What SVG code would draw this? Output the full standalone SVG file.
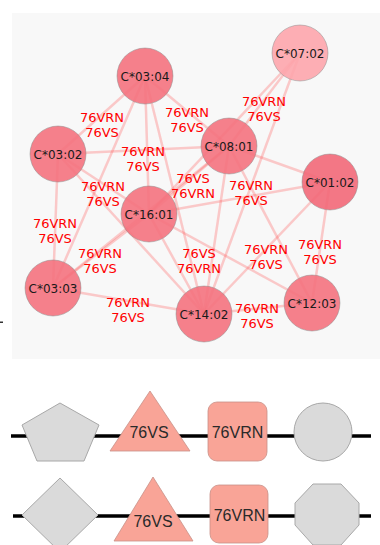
<svg xmlns="http://www.w3.org/2000/svg" width="380" height="545" viewBox="0 0 380 545">
<style>
.e{stroke:#ff5a5a;stroke-opacity:0.3;stroke-width:2.5;fill:none}
.n{stroke:#8a8a8a;stroke-opacity:0.6;stroke-width:0.8}
.nl{font-family:"DejaVu Sans",sans-serif;font-size:12px;fill:#1a1a1a;text-anchor:middle}
.el{font-family:"DejaVu Sans",sans-serif;font-size:13px;fill:#ff0000;text-anchor:middle}
.g{fill:#dadada;stroke:#a8a8a8;stroke-width:1}
.s{fill:#f9a497;stroke:#c89088;stroke-width:0.8}
.bl{stroke:#000;stroke-width:3.5}
.bt{font-family:"Liberation Sans",Arial,sans-serif;font-size:16px;fill:#2a2a2a;text-anchor:middle}
</style>
<rect x="12" y="13" width="368" height="346" fill="#f8f8f8"/>
<rect x="0" y="321.5" width="3" height="1.5" fill="#333"/>
<g id="edges">
<line class="e" x1="145" y1="76" x2="58" y2="154"/>
<line class="e" x1="145" y1="76" x2="229" y2="146"/>
<line class="e" x1="145" y1="76" x2="149" y2="214"/>
<line class="e" x1="145" y1="76" x2="204" y2="314"/>
<line class="e" x1="145" y1="76" x2="53" y2="288"/>
<line class="e" x1="300" y1="53" x2="229" y2="146"/>
<line class="e" x1="300" y1="53" x2="149" y2="214"/>
<line class="e" x1="300" y1="53" x2="204" y2="314"/>
<line class="e" x1="58" y1="154" x2="229" y2="146"/>
<line class="e" x1="58" y1="154" x2="149" y2="214"/>
<line class="e" x1="58" y1="154" x2="53" y2="288"/>
<line class="e" x1="58" y1="154" x2="204" y2="314"/>
<line class="e" x1="229" y1="146" x2="149" y2="214"/>
<line class="e" x1="229" y1="146" x2="330" y2="182"/>
<line class="e" x1="229" y1="146" x2="204" y2="314"/>
<line class="e" x1="229" y1="146" x2="312" y2="303"/>
<line class="e" x1="229" y1="146" x2="53" y2="288"/>
<line class="e" x1="149" y1="214" x2="330" y2="182"/>
<line class="e" x1="149" y1="214" x2="53" y2="288"/>
<line class="e" x1="149" y1="214" x2="204" y2="314"/>
<line class="e" x1="149" y1="214" x2="312" y2="303"/>
<line class="e" x1="53" y1="288" x2="204" y2="314"/>
<line class="e" x1="330" y1="182" x2="204" y2="314"/>
<line class="e" x1="330" y1="182" x2="312" y2="303"/>
<line class="e" x1="204" y1="314" x2="312" y2="303"/>
</g>
<g id="n0304"><circle class="n" cx="145" cy="76" r="28" fill="#f4727e" fill-opacity="0.9"/><text class="nl" x="145" y="80.5">C*03:04</text></g>
<g id="n0702"><circle class="n" cx="300" cy="53" r="28" fill="#fda5ac" fill-opacity="0.9"/><text class="nl" x="300" y="57.5">C*07:02</text></g>
<g id="n0302"><circle class="n" cx="58" cy="154" r="28" fill="#f4727e" fill-opacity="0.9"/><text class="nl" x="58" y="158.5">C*03:02</text></g>
<g id="n0801"><circle class="n" cx="229" cy="146" r="28" fill="#f4727e" fill-opacity="0.9"/><text class="nl" x="229" y="150.5">C*08:01</text></g>
<g id="n0102"><circle class="n" cx="330" cy="182" r="28" fill="#f26878" fill-opacity="0.9"/><text class="nl" x="330" y="186.5">C*01:02</text></g>
<g id="n1601"><circle class="n" cx="149" cy="214" r="28" fill="#f4727e" fill-opacity="0.9"/><text class="nl" x="149" y="218.5">C*16:01</text></g>
<g id="n0303"><circle class="n" cx="53" cy="288" r="28" fill="#f4727e" fill-opacity="0.9"/><text class="nl" x="53" y="292.5">C*03:03</text></g>
<g id="n1402"><circle class="n" cx="204" cy="314" r="28" fill="#f4727e" fill-opacity="0.9"/><text class="nl" x="204" y="318.5">C*14:02</text></g>
<g id="n1203"><circle class="n" cx="312" cy="303" r="28" fill="#f4727e" fill-opacity="0.9"/><text class="nl" x="312" y="307.5">C*12:03</text></g>
<g id="edge-labels">
<text class="el" x="102" y="122">76VRN<tspan x="102" dy="14.5">76VS</tspan></text>
<text class="el" x="187" y="117">76VRN<tspan x="187" dy="14.5">76VS</tspan></text>
<text class="el" x="264" y="106">76VRN<tspan x="264" dy="14.5">76VS</tspan></text>
<text class="el" x="143" y="156">76VRN<tspan x="143" dy="14.5">76VS</tspan></text>
<text class="el" x="193" y="183">76VS<tspan x="193" dy="14.5">76VRN</tspan></text>
<text class="el" x="251" y="190">76VRN<tspan x="251" dy="14.5">76VS</tspan></text>
<text class="el" x="103" y="191">76VRN<tspan x="103" dy="14.5">76VS</tspan></text>
<text class="el" x="55" y="228">76VRN<tspan x="55" dy="14.5">76VS</tspan></text>
<text class="el" x="100" y="258">76VRN<tspan x="100" dy="14.5">76VS</tspan></text>
<text class="el" x="199" y="258">76VS<tspan x="199" dy="14.5">76VRN</tspan></text>
<text class="el" x="266" y="254">76VRN<tspan x="266" dy="14.5">76VS</tspan></text>
<text class="el" x="320" y="249">76VRN<tspan x="320" dy="14.5">76VS</tspan></text>
<text class="el" x="128" y="307">76VRN<tspan x="128" dy="14.5">76VS</tspan></text>
<text class="el" x="257" y="313">76VRN<tspan x="257" dy="14.5">76VS</tspan></text>
</g>
<g id="row1">
<line class="bl" x1="11" y1="436" x2="371" y2="436"/>
<polygon class="g" points="60,403 99,425 84,461 37,461 22,425"/>
<polygon class="s" points="150,391 190,451 110,451"/>
<text class="bt" x="149" y="438">76VS</text>
<rect class="s" x="208" y="402" width="59" height="59" rx="9"/>
<text class="bt" x="237.5" y="438">76VRN</text>
<circle class="g" cx="323" cy="432" r="29"/>
</g>
<g id="row2">
<line class="bl" x1="13" y1="516" x2="371" y2="516"/>
<polygon class="g" points="60,478 98,515 60,552 22,515"/>
<polygon class="s" points="153,477 193,541 114,541"/>
<text class="bt" x="153" y="527">76VS</text>
<rect class="s" x="210" y="485" width="58" height="58" rx="9"/>
<text class="bt" x="239.5" y="521">76VRN</text>
<polygon class="g" points="313,484 341,484 359,503 359,525 341,545 313,545 295,525 295,503"/>
</g>
</svg>
